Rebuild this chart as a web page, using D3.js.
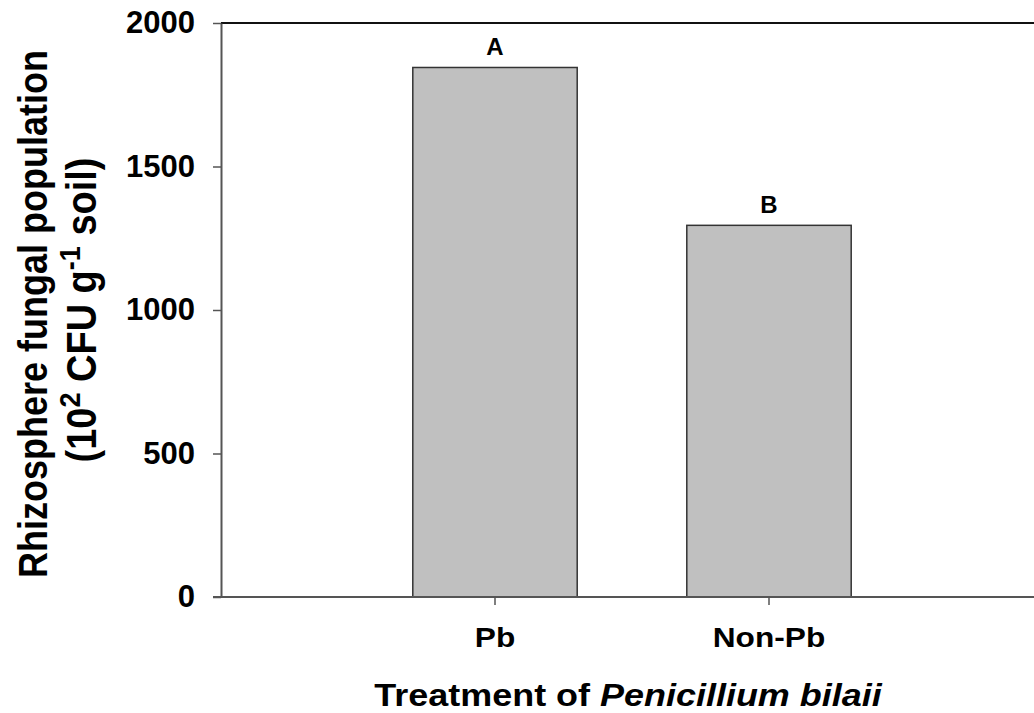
<!DOCTYPE html>
<html>
<head>
<meta charset="utf-8">
<script src="https://cdn.jsdelivr.net/npm/d3@7"></script>
<style>
  html, body { margin: 0; padding: 0; background: #fff; }
  svg { display: block; }
  text { font-family: Arial, "Liberation Sans", sans-serif; font-weight: bold; fill: #000; }
</style>
</head>
<body>
<div id="chart"></div>
<script>
// Data
const treatments = ['Pb', 'Non-Pb'];
const fungalPop = [1845, 1295];
const sigLetters = ['A', 'B'];
const yTicks = [0, 500, 1000, 1500, 2000];

const width = 1034;
const height = 713;
const margin = { top: 23, right: -9, bottom: 116, left: 221 };

const svg = d3.select('#chart')
  .append('svg')
  .attr('width', width)
  .attr('height', height)
  .attr('viewBox', `0 0 ${width} ${height}`);

const x = d3.scaleBand()
  .domain(treatments)
  .range([margin.left, width - margin.right])
  .paddingInner(0.4)
  .paddingOuter(0.7);

const y = d3.scaleLinear()
  .domain([0, 2000])
  .range([height - margin.bottom, margin.top]);

// Bars
svg.selectAll('rect.bar')
  .data(treatments)
  .enter()
  .append('rect')
  .attr('class', 'bar')
  .attr('x', d => x(d))
  .attr('width', x.bandwidth())
  .attr('y', (d, i) => y(fungalPop[i]))
  .attr('height', (d, i) => y(0) - y(fungalPop[i]))
  .attr('fill', '#c0c0c0')
  .attr('stroke', '#333')
  .attr('stroke-width', 1.5);

// Significance letters
svg.selectAll('text.sig')
  .data(treatments)
  .enter()
  .append('text')
  .attr('class', 'sig')
  .attr('x', d => x(d) + x.bandwidth() / 2)
  .attr('y', (d, i) => y(fungalPop[i]) - 12)
  .attr('text-anchor', 'middle')
  .style('font-size', '24px')
  .text((d, i) => sigLetters[i]);

// Frame top line
svg.append('line')
  .attr('x1', margin.left).attr('x2', width)
  .attr('y1', y(2000)).attr('y2', y(2000))
  .attr('stroke', '#111')
  .attr('stroke-width', 2);

// Y axis
const yAxis = svg.append('g')
  .attr('transform', `translate(${margin.left},0)`)
  .call(d3.axisLeft(y).tickValues(yTicks).tickFormat(d3.format('d'))
    .tickSize(8).tickPadding(18).tickSizeOuter(0));
yAxis.select('.domain').attr('stroke', '#555').attr('stroke-width', 2);
yAxis.selectAll('.tick line').attr('stroke', '#555').attr('stroke-width', 1.5);
yAxis.selectAll('.tick text')
  .style('font-size', '31px')
  .style('font-family', 'Arial, "Liberation Sans", sans-serif')
  .style('font-weight', 'bold')
  .attr('fill', '#000');

// X axis
const xAxis = svg.append('g')
  .attr('transform', `translate(0,${y(0)})`)
  .call(d3.axisBottom(x).tickSize(8).tickPadding(22).tickSizeOuter(0));
xAxis.select('.domain').attr('stroke', '#555').attr('stroke-width', 2)
  .attr('d', `M${margin.left - 8},0H${width}`);
xAxis.selectAll('.tick line').attr('stroke', '#555').attr('stroke-width', 1.5);
xAxis.selectAll('.tick text')
  .style('font-size', '28px')
  .style('font-family', 'Arial, "Liberation Sans", sans-serif')
  .style('font-weight', 'bold')
  .attr('fill', '#000')
  .attr('transform', 'scale(1.13,1)');

// X title
const xTitle = svg.append('text')
  .attr('text-anchor', 'middle')
  .attr('transform', `translate(628,706) scale(1.16,1)`)
  .style('font-size', '31px');
xTitle.append('tspan').text('Treatment of ');
xTitle.append('tspan').style('font-style', 'italic').text('Penicillium bilaii');

// Y title, two lines
svg.append('text')
  .attr('text-anchor', 'middle')
  .attr('transform', `translate(47,314) rotate(-90) scale(1,1.15)`)
  .style('font-size', '36px')
  .text('Rhizosphere fungal population');

const yTitle2 = svg.append('text')
  .attr('text-anchor', 'middle')
  .attr('transform', `translate(96,310) rotate(-90) scale(1,1.1)`)
  .style('font-size', '38px');
yTitle2.append('tspan').text('(10');
yTitle2.append('tspan').attr('dy', -15).style('font-size', '27px').text('2');
yTitle2.append('tspan').attr('dy', 15).text(' CFU g');
yTitle2.append('tspan').attr('dy', -15).style('font-size', '27px').text('-1');
yTitle2.append('tspan').attr('dy', 15).text(' soil)');
</script>
</body>
</html>
